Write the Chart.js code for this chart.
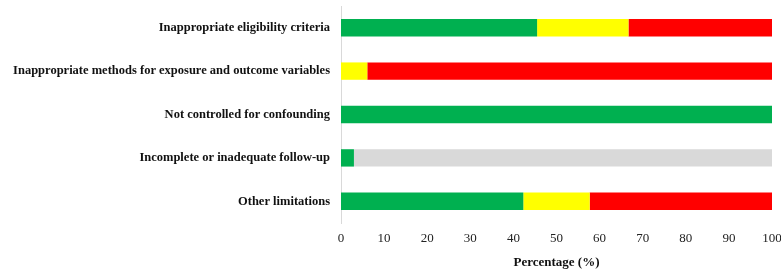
<!DOCTYPE html>
<html>
<head>
<meta charset="utf-8">
<script src="https://cdn.jsdelivr.net/npm/chart.js@4"></script>
<style>
  html, body { margin: 0; padding: 0; background: #fff; }
  #wrap { width: 781px; height: 273px; }
</style>
</head>
<body>
<div id="wrap"><canvas id="chart" width="781" height="273"></canvas></div>
<script>
// categories (top to bottom)
const categories = [
  'Inappropriate eligibility criteria',
  'Inappropriate methods for exposure and outcome variables',
  'Not controlled for confounding',
  'Incomplete or inadequate follow-up',
  'Other limitations'
];
// percentages per colour segment
const greenVals  = [45.5, 0, 100, 3.0, 42.3];
const yellowVals = [21.2, 6.1, 0, 0, 15.4];
const redVals    = [33.3, 93.9, 0, 0, 42.3];
const greyVals   = [0, 0, 0, 97.0, 0];
const xTicks = [0, 10, 20, 30, 40, 50, 60, 70, 80, 90, 100];

const serif = 'Liberation Serif, Times New Roman, serif';

const seg = (data, color) => ({
  data: data,
  backgroundColor: color,
  borderWidth: 0,
  barPercentage: 0.4,
  categoryPercentage: 1.0
});

new Chart(document.getElementById('chart').getContext('2d'), {
  type: 'bar',
  data: {
    labels: categories,
    datasets: [
      seg(greenVals,  '#00B050'),
      seg(yellowVals, '#FFFF00'),
      seg(redVals,    '#FF0000'),
      seg(greyVals,   '#D9D9D9')
    ]
  },
  options: {
    indexAxis: 'y',
    responsive: false,
    animation: false,
    layout: { padding: { top: 6, right: 9, left: 0, bottom: 0 } },
    plugins: { legend: { display: false }, tooltip: { enabled: false } },
    scales: {
      x: {
        stacked: true,
        min: 0, max: 100,
        afterBuildTicks: s => { s.ticks = xTicks.map(v => ({ value: v })); },
        afterFit: s => { s.height = 50; s.paddingLeft = 0; s.paddingRight = 0; },
        grid: { display: false, drawTicks: false },
        border: { display: false },
        ticks: { padding: 8, color: '#222', font: { family: serif, size: 13 } },
        title: {
          display: true,
          text: 'Percentage (%)',
          color: '#111',
          padding: { top: 6, bottom: 3 },
          font: { family: serif, size: 13, weight: 'bold' }
        }
      },
      y: {
        stacked: true,
        afterFit: s => { s.width = 341; s.paddingTop = 0; s.paddingBottom = 0; },
        grid: { display: false, drawTicks: false },
        border: { display: true, color: '#D9D9D9', width: 1 },
        ticks: { padding: 11, color: '#111', font: { family: serif, size: 12.5, weight: 'bold' } }
      }
    }
  }
});
</script>
</body>
</html>
